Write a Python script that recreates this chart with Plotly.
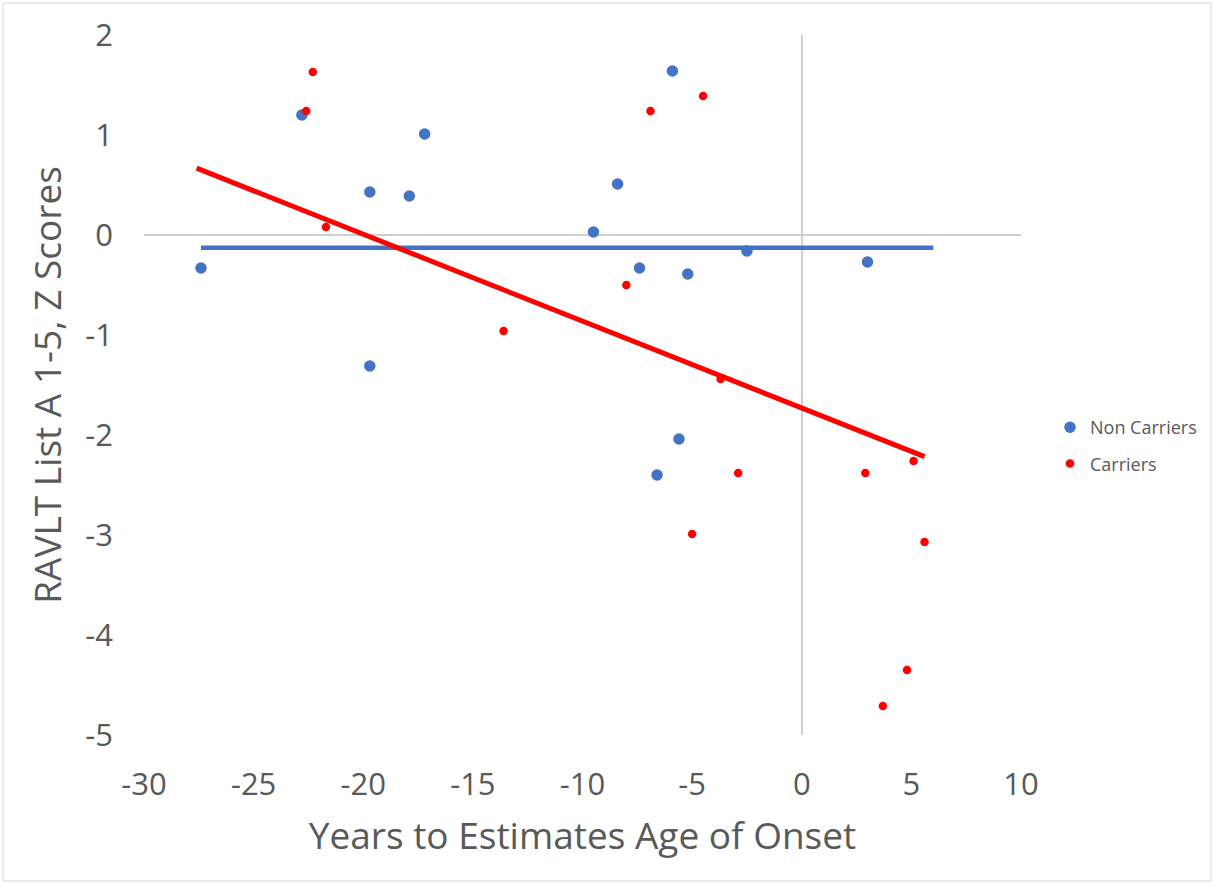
import plotly.graph_objects as go
import numpy as np

# Years to estimated age of onset vs. RAVLT List A 1-5 z scores
non_carrier_years = [-27.4, -22.8, -19.7, -17.9, -17.2, -19.7, -9.5, -8.4, -7.4,
                     -5.9, -5.6, -6.6, -5.2, -2.5, 3.0]
non_carrier_z = [-0.33, 1.20, 0.43, 0.39, 1.01, -1.31, 0.03, 0.51, -0.33,
                 1.64, -2.04, -2.40, -0.39, -0.16, -0.27]

carrier_years = [-22.3, -22.6, -21.7, -13.6, -8.0, -6.9, -4.5, -3.7, -2.9,
                 -5.0, 2.9, 5.1, 5.6, 4.8, 3.7]
carrier_z = [1.63, 1.24, 0.08, -0.96, -0.50, 1.24, 1.39, -1.44, -2.38,
             -2.99, -2.38, -2.26, -3.07, -4.35, -4.71]

# Linear trend lines (slope, intercept) with forecast periods
non_carrier_trend = {"slope": 0.0, "intercept": -0.127, "backward": 0, "forward": 3}
carrier_trend = {"slope": -0.0869, "intercept": -1.73, "backward": 5, "forward": 0}

x_ticks = [-30, -25, -20, -15, -10, -5, 0, 5, 10]
y_ticks = [-5, -4, -3, -2, -1, 0, 1, 2]

BLUE = "#4472C4"
RED = "#FF0000"
TEXT = "#595959"


def trend_xy(xs, t):
    lo = min(xs) - t["backward"]
    hi = max(xs) + t["forward"]
    tx = np.array([lo, hi])
    return tx, t["slope"] * tx + t["intercept"]


fig = go.Figure()

fig.add_trace(go.Scatter(
    x=non_carrier_years, y=non_carrier_z, mode="markers", name="Non Carriers",
    legendgroup="nc",
    marker=dict(color=BLUE, size=11.5, line=dict(width=0)),
))
fig.add_trace(go.Scatter(
    x=carrier_years, y=carrier_z, mode="markers", name="Carriers",
    legendgroup="c",
    marker=dict(color=RED, size=8.5, line=dict(width=0)),
))

tx, ty = trend_xy(non_carrier_years, non_carrier_trend)
fig.add_trace(go.Scatter(x=tx, y=ty, mode="lines", showlegend=False,
                         line=dict(color=BLUE, width=4.5), hoverinfo="skip"))
tx, ty = trend_xy(carrier_years, carrier_trend)
fig.add_trace(go.Scatter(x=tx, y=ty, mode="lines", showlegend=False,
                         line=dict(color=RED, width=5), hoverinfo="skip"))

axis_font = dict(family="Open Sans, sans-serif", size=31, color=TEXT)
title_font = dict(family="Open Sans, sans-serif", size=37, color=TEXT)

fig.update_layout(
    width=1214, height=884,
    margin=dict(l=144, r=193, t=35, b=149, autoexpand=False),
    paper_bgcolor="white", plot_bgcolor="white",
    font=dict(family="Open Sans, sans-serif", color=TEXT),
    xaxis=dict(
        range=[-30, 10], tickvals=x_ticks, ticktext=[str(v) for v in x_ticks],
        showgrid=False, showline=False, ticks="",
        zeroline=True, zerolinecolor="#cfcfcf", zerolinewidth=1.5,
        tickfont=axis_font, ticklabelstandoff=28, automargin=False,
        title=dict(text="Years to Estimates Age of Onset", font=title_font, standoff=20),
    ),
    yaxis=dict(
        range=[-5, 2], tickvals=y_ticks, ticktext=[str(v) for v in y_ticks],
        showgrid=False, showline=False, ticks="",
        zeroline=True, zerolinecolor="#cfcfcf", zerolinewidth=1.5,
        tickfont=axis_font, ticklabelstandoff=30, automargin=False,
        title=dict(text="RAVLT List A 1-5, Z Scores", font=title_font, standoff=12),
    ),
    legend=dict(
        x=(1050 - 144) / 877, y=(735 - 409) / 700, xanchor="left", yanchor="top",
        font=dict(family="Open Sans, sans-serif", size=18, color=TEXT),
        bgcolor="rgba(0,0,0,0)", tracegroupgap=10,
    ),
    shapes=[dict(
        type="rect", xref="paper", yref="paper",
        x0=(3 - 144) / 877, x1=(1211 - 144) / 877,
        y0=(735 - 881) / 700, y1=(735 - 3) / 700,
        line=dict(color="#d9d9d9", width=1), fillcolor="rgba(0,0,0,0)", layer="below",
    )],
)

fig.write_html("out.html")
